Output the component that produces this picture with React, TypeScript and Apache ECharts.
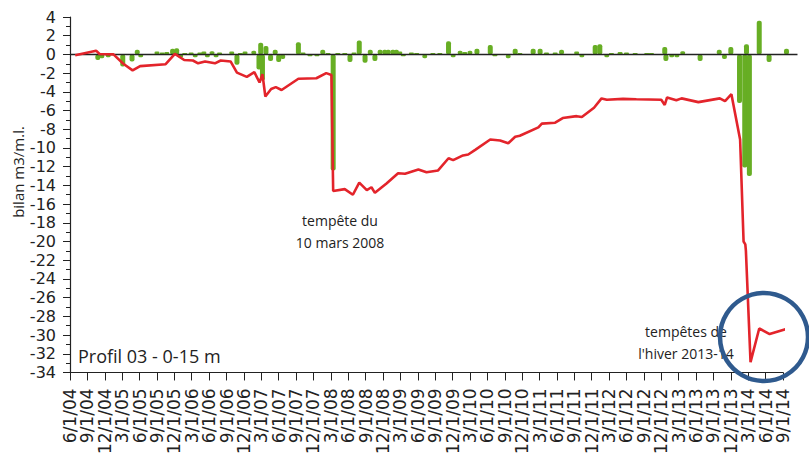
import React, { useEffect, useRef } from "react";
import * as echarts from "echarts";

// x values are months since 6/1/04
const xTickLabels = [
  "6/1/04", "9/1/04", "12/1/04", "3/1/05", "6/1/05", "9/1/05", "12/1/05",
  "3/1/06", "6/1/06", "9/1/06", "12/1/06", "3/1/07", "6/1/07", "9/1/07", "12/1/07",
  "3/1/08", "6/1/08", "9/1/08", "12/1/08", "3/1/09", "6/1/09", "9/1/09", "12/1/09",
  "3/1/10", "6/1/10", "9/1/10", "12/1/10", "3/1/11", "6/1/11", "9/1/11", "12/1/11",
  "3/1/12", "6/1/12", "9/1/12", "12/1/12", "3/1/13", "6/1/13", "9/1/13", "12/1/13",
  "3/1/14", "6/1/14", "9/1/14",
];

// cumulative budget (red line): [month, m3/m.l.]
const cumulativeBudget: [number, number][] = [
  [0.9, -0.1], [4.5, 0.4], [5.1, 0.05], [7.5, 0], [9.2, -1.0], [10.8, -1.7],
  [12.1, -1.25], [16.5, -1.05], [18.1, 0.05], [19.7, -0.6], [21.2, -0.65],
  [22.1, -0.95], [23.3, -0.75], [25.0, -0.95], [26.0, -0.65], [27.7, -0.75],
  [28.8, -1.95], [30.5, -2.4], [31.8, -1.9], [32.7, -3.0], [33.2, -2.1],
  [33.7, -4.5], [34.7, -3.7], [35.5, -3.5], [36.5, -3.8], [39.4, -2.6],
  [42.5, -2.55], [44.2, -2.0], [45.1, -2.2], [45.4, -14.6], [47.4, -14.4],
  [48.8, -15.0], [49.9, -13.7], [51.2, -14.5], [52.0, -14.2], [52.6, -14.8],
  [54.6, -13.8], [56.6, -12.7], [57.8, -12.75], [60.1, -12.3], [61.5, -12.6],
  [63.5, -12.4], [65.3, -11.1], [66.1, -11.3], [67.8, -10.8], [68.7, -10.7],
  [69.9, -10.2], [72.5, -9.1], [74.2, -9.2], [75.6, -9.5], [76.8, -8.8],
  [77.6, -8.7], [80.8, -7.8], [81.4, -7.4], [83.7, -7.3], [85.0, -6.8],
  [87.4, -6.6], [88.3, -6.7], [90.4, -5.7], [91.7, -4.7], [92.6, -4.85],
  [95.4, -4.75], [97.7, -4.8], [102.0, -4.85], [102.6, -5.4], [103.0, -4.6],
  [104.6, -4.9], [105.5, -4.7], [108.4, -5.1], [112.1, -4.7], [113.0, -5.0],
  [114.1, -4.25], [115.6, -9.1], [116.2, -20.0], [116.5, -20.3], [116.6, -21.0],
  [117.4, -32.9], [118.9, -29.3], [120.7, -29.9], [123.9, -29.3],
];

// budget between surveys (green bars): [month, m3/m.l.]
const surveyBudget: [number, number][] = [
  [4.8, -0.6], [5.5, -0.4], [6.6, -0.3], [9.1, -1.3], [10.7, -0.75], [11.6, 0.5],
  [12.2, -0.3], [15.0, 0.3], [15.9, 0.2], [16.7, 0.25], [17.7, 0.6], [18.4, 0.65],
  [19.1, -0.35], [19.8, 0.15], [20.9, 0.2], [21.6, -0.3], [22.4, 0.2], [23.1, 0.3],
  [23.7, -0.3], [24.5, 0.35], [25.2, -0.3], [25.8, 0.2], [27.9, 0.3], [28.8, -1.1],
  [29.4, 0.15], [30.2, 0.3], [31.7, 0.4], [32.6, -1.6], [32.9, 1.25], [33.2, -2.8],
  [33.8, 0.9], [34.6, -0.7], [35.4, 0.5], [36.0, -0.8], [36.7, -0.5], [39.4, 1.3],
  [40.2, 0.2], [41.4, -0.2], [42.6, -0.2], [43.6, 0.5], [44.5, 0.15], [45.4, -12.4],
  [46.2, 0.15], [47.4, 0.15], [48.3, -0.8], [49.0, 0.2], [49.9, 1.5], [50.9, -0.9],
  [51.8, 0.5], [52.6, -0.7], [53.5, 0.5], [54.3, 0.5], [54.9, 0.5], [55.7, 0.5],
  [56.3, 0.5], [56.9, 0.3], [57.5, -0.2], [58.9, 0.2], [59.8, 0.15], [61.2, -0.4],
  [62.6, 0.15], [63.8, 0.15], [65.3, 1.4], [66.1, -0.3], [67.3, 0.4], [68.1, 0.25],
  [69.0, 0.4], [70.2, 0.6], [72.5, 1.0], [73.3, -0.2], [75.6, -0.4], [76.8, 0.6],
  [77.6, 0.15], [79.9, 0.6], [81.1, 0.6], [82.2, 0.2], [83.7, 0.2], [84.8, 0.5],
  [87.4, 0.3], [88.3, -0.3], [90.6, 1.0], [91.4, 1.1], [92.6, -0.3], [93.4, 0.15],
  [94.9, 0.25], [96.0, 0.2], [97.5, 0.15], [99.5, 0.15], [100.3, 0.15], [102.6, 0.8],
  [102.8, -0.7], [103.8, -0.3], [104.7, -0.3], [105.7, 0.35], [108.7, -0.7],
  [112.0, 0.5], [112.9, -0.5], [114.0, 0.8], [115.5, -5.2], [116.4, -12.1],
  [116.7, 1.1], [117.2, -13.0], [118.9, 3.6], [120.6, -0.8], [123.6, 0.6],
];

const yTicks = { min: -34, max: 4, interval: 2 };
const xRange = { min: 0, max: 123, interval: 3 };

export default function App() {
  const ref = useRef<HTMLDivElement>(null);
  useEffect(() => {
    if (!ref.current) return;
    const chart = echarts.init(ref.current, undefined, { renderer: "svg" });
    const labelFont = "'DejaVu Sans', sans-serif";
    const textFont = "'Open Sans', 'Noto Sans', sans-serif";
    chart.setOption({
      animation: false,
      backgroundColor: "#ffffff",
      grid: { left: 70, right: 26, top: 17, bottom: 84 },
      xAxis: {
        type: "value",
        min: xRange.min,
        max: xRange.max,
        interval: xRange.interval,
        axisLine: { show: true, onZero: false, lineStyle: { color: "#222", width: 1.2 } },
        axisTick: { show: true, length: 8, lineStyle: { color: "#222" } },
        splitLine: { show: false },
        axisLabel: {
          rotate: 90,
          margin: 16,
          fontSize: 17,
          color: "#222",
          fontFamily: labelFont,
          formatter: (v: number) => xTickLabels[Math.round(v / 3)] ?? "",
        },
      },
      yAxis: {
        type: "value",
        min: yTicks.min,
        max: yTicks.max,
        interval: yTicks.interval,
        axisLine: { show: true, lineStyle: { color: "#222", width: 1.2 } },
        axisTick: { show: true, length: 7, lineStyle: { color: "#222" } },
        minorTick: { show: true, splitNumber: 2, length: 4, lineStyle: { color: "#222" } },
        splitLine: { show: false },
        axisLabel: { fontSize: 16, color: "#222", fontFamily: labelFont, margin: 14 },
      },
      series: [
        {
          type: "bar",
          data: surveyBudget,
          barWidth: 5,
          clip: false,
          itemStyle: { color: "#67ae24", borderRadius: 2 },
          z: 2,
        },
        {
          type: "line",
          data: cumulativeBudget,
          showSymbol: false,
          clip: false,
          lineStyle: { color: "#e3242b", width: 2.6 },
          z: 4,
        },
      ],
    });

    const p0 = chart.convertToPixel({ gridIndex: 0 }, [0, 0]) as number[];
    const p1 = chart.convertToPixel({ gridIndex: 0 }, [125.5, 0]) as number[];
    chart.setOption({
      graphic: [
        {
          id: "zero",
          type: "line",
          shape: { x1: p0[0], y1: p0[1], x2: p1[0], y2: p1[1] },
          style: { stroke: "#222", lineWidth: 1.5 },
          z: 3,
        },
        {
          id: "yname",
          type: "text",
          x: 18,
          y: 172,
          rotation: Math.PI / 2,
          style: {
            text: "bilan m3/m.l.",
            fontSize: 15,
            fontFamily: textFont,
            fill: "#222",
            textAlign: "center",
            textVerticalAlign: "middle",
          },
        },
        {
          id: "storm1",
          type: "text",
          x: 340,
          y: 231,
          style: {
            text: "tempête du\n10 mars 2008",
            fontSize: 14,
            lineHeight: 22,
            fontFamily: textFont,
            fill: "#222",
            textAlign: "center",
            textVerticalAlign: "middle",
          },
        },
        {
          id: "storm2",
          type: "text",
          x: 686,
          y: 342,
          style: {
            text: "tempêtes de\nl'hiver 2013-14",
            fontSize: 14,
            lineHeight: 22,
            fontFamily: textFont,
            fill: "#222",
            textAlign: "center",
            textVerticalAlign: "middle",
          },
        },
        {
          id: "profil",
          type: "text",
          x: 78,
          y: 356,
          style: {
            text: "Profil 03 - 0-15 m",
            fontSize: 18,
            fontFamily: textFont,
            fill: "#222",
            textAlign: "left",
            textVerticalAlign: "middle",
          },
        },
        {
          id: "circle",
          type: "circle",
          shape: { cx: 764, cy: 337, r: 44 },
          style: { fill: "none", stroke: "#2f5a8e", lineWidth: 4.5 },
          z: 10,
        },
      ],
    });
    return () => chart.dispose();
  }, []);
  return (
    <div
      ref={ref}
      style={{ position: "fixed", left: 0, top: 0, width: 809, height: 457 }}
    />
  );
}
